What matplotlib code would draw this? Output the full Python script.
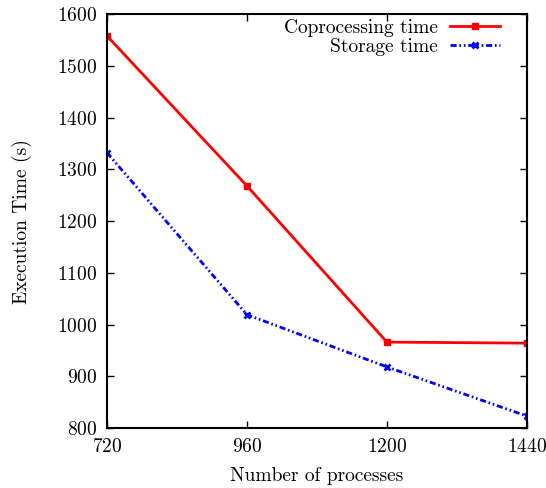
import matplotlib
matplotlib.use("Agg")
import matplotlib.pyplot as plt

processes = [720, 960, 1200, 1440]
coprocessing = [1558, 1268, 966, 964]
storage = [1332, 1019, 918, 823]
yticks = [800, 900, 1000, 1100, 1200, 1300, 1400, 1500, 1600]

plt.rcParams['font.family'] = ['cmr10', 'DejaVu Serif']
plt.rcParams['axes.formatter.use_mathtext'] = True
plt.rcParams['mathtext.fontset'] = 'cm'

fig = plt.figure(figsize=(5.46, 4.88), dpi=100)
ax = fig.add_axes([0.196, 0.123, 0.769, 0.848])

ax.plot(processes, coprocessing, color='#ff0000', lw=2, marker='s', ms=5,
        label='Coprocessing time')
ax.plot(processes, storage, color='#0000ff', lw=2, marker='x', ms=5, mew=2,
        dashes=(2.2, 1.0, 0.6, 1.0, 0.6, 1.0), label='Storage time')

ax.set_xlim(720, 1440)
ax.set_ylim(800, 1600)
ax.set_xticks(processes)
ax.set_yticks(yticks)
ax.tick_params(direction='in', top=True, right=True, length=5, width=1,
               labelsize=14, pad=7)
for s in ax.spines.values():
    s.set_linewidth(1.5)
ax.set_xlabel('Number of processes', fontsize=14, labelpad=8)
ax.set_ylabel('Execution Time (s)', fontsize=14, labelpad=18)

leg = ax.legend(loc='upper right', bbox_to_anchor=(0.955, 1.008), frameon=False,
                markerfirst=False, fontsize=14, handlelength=2.6,
                borderaxespad=0.0, labelspacing=0.08, handletextpad=0.6)
for t in leg.get_texts():
    t.set_ha('right')

fig.savefig('out.png', dpi=100)
